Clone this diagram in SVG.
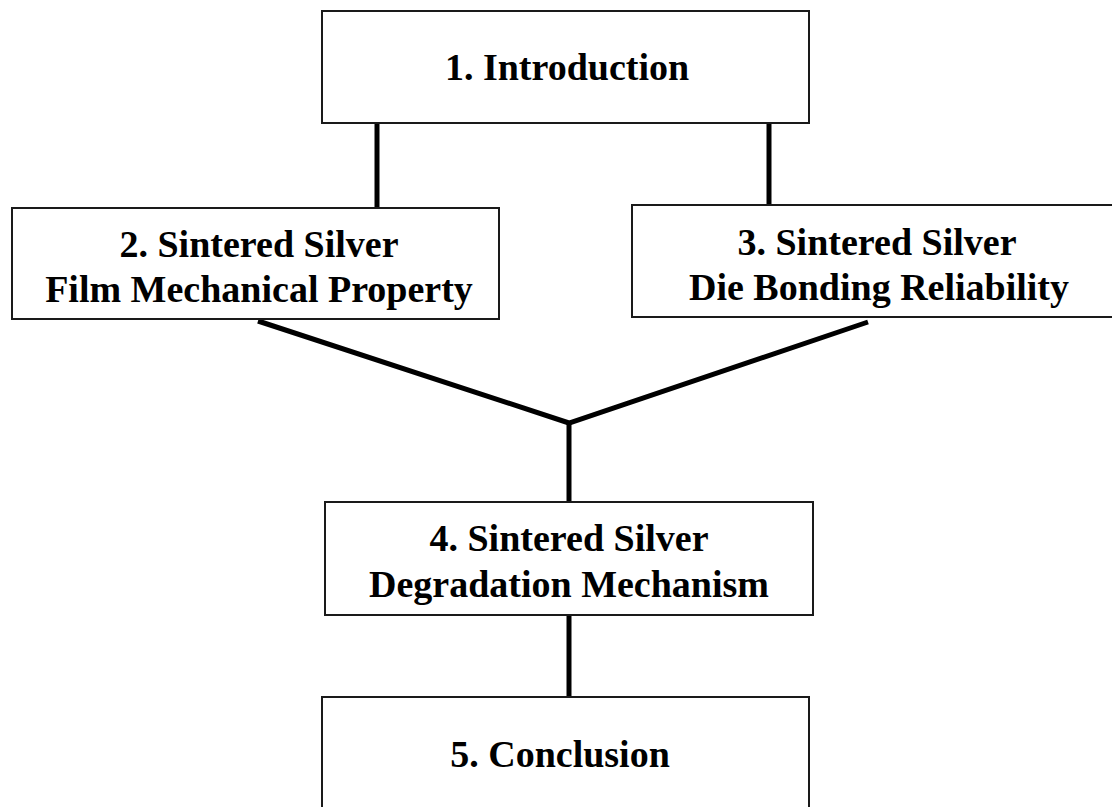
<svg xmlns="http://www.w3.org/2000/svg" width="1112" height="807" viewBox="0 0 1112 807">
<style>
.box{fill:#ffffff;stroke:#1a1a1a;stroke-width:2}
.lbl{font-family:"Liberation Serif","Times New Roman",serif;font-weight:bold;font-size:38px;fill:#000;text-anchor:middle}
.con{stroke:#000;stroke-width:5;fill:none;stroke-linejoin:miter}
</style>
<rect width="1112" height="807" fill="#ffffff"/>
<g id="connectors">
<line class="con" x1="377" y1="123" x2="377" y2="207"/>
<line class="con" x1="769" y1="123" x2="769" y2="205"/>
<polyline class="con" points="258,321 569,423 868,322"/>
<line class="con" x1="569" y1="423" x2="569" y2="502"/>
<line class="con" x1="569" y1="615" x2="569" y2="697"/>
</g>
<g id="n1">
<rect class="box" x="322" y="11" width="487" height="112"/>
<text class="lbl" x="567" y="80">1. Introduction</text>
</g>
<g id="n2">
<rect class="box" x="12" y="208" width="487" height="111"/>
<text class="lbl" x="259" y="257">2. Sintered Silver</text>
<text class="lbl" x="259" y="302">Film Mechanical Property</text>
</g>
<g id="n3">
<rect class="box" x="632" y="205" width="500" height="112"/>
<text class="lbl" x="877" y="255">3. Sintered Silver</text>
<text class="lbl" x="879" y="300">Die Bonding Reliability</text>
</g>
<g id="n4">
<rect class="box" x="325" y="502" width="488" height="113"/>
<text class="lbl" x="569" y="551">4. Sintered Silver</text>
<text class="lbl" x="569" y="597">Degradation Mechanism</text>
</g>
<g id="n5">
<rect class="box" x="322" y="697" width="487" height="130"/>
<text class="lbl" x="560" y="767">5. Conclusion</text>
</g>
</svg>
